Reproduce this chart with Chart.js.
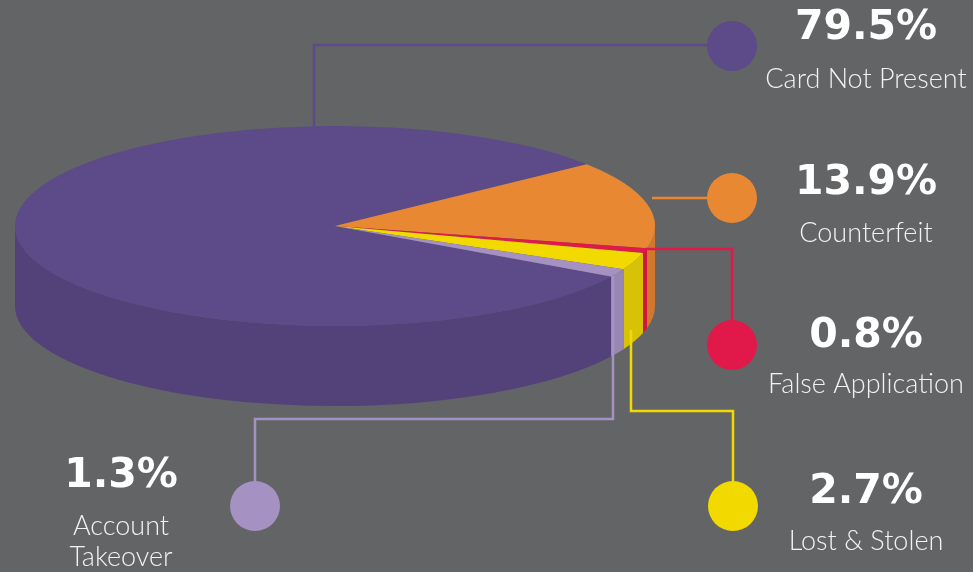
<!DOCTYPE html>
<html>
<head>
<meta charset="utf-8">
<script src="https://cdn.jsdelivr.net/npm/chart.js@4.4.1/dist/chart.umd.min.js"></script>
<style>
  html, body { margin: 0; padding: 0; background: #636466; }
  #wrap { width: 973px; height: 572px; position: relative; }
</style>
</head>
<body>
<div id="wrap"><canvas id="fraudPie" width="973" height="572"></canvas></div>
<script>
// fraud types and their share of losses (%)
const categories = ['Card Not Present', 'Counterfeit', 'False Application', 'Lost & Stolen', 'Account Takeover'];
const shares = [79.5, 13.9, 0.8, 2.7, 1.3];
const topColors = ['#5c4a89', '#e98833', '#e0194a', '#f2d900', '#a592c3'];
const sideColors = ['#53417a', '#cf782e', '#d0173f', '#d8c208', '#9687b4'];

// callout layout: leader path, dot, text column
const callouts = [
  { path: [[314, 126], [314, 45], [732, 45]], dot: [732, 46], tx: 866, pctY: 39, labelY: [88] },
  { path: [[652, 198], [732, 198]], dot: [732, 198], tx: 866, pctY: 194, labelY: [242] },
  { path: [[645, 249], [732, 249], [732, 345]], dot: [732, 345], tx: 866, pctY: 347, labelY: [393] },
  { path: [[631, 330], [631, 411], [733, 411], [733, 506]], dot: [733, 506], tx: 866, pctY: 503, labelY: [550] },
  { path: [[613, 276], [613, 419], [255, 419], [255, 506]], dot: [255, 506], tx: 121, pctY: 487, labelY: [535, 566] }
];

const stretch = 3.2;   // horizontal squash factor -> ellipse
const depth = 80;      // pie thickness in px

function sideSpans(a0, a1) {
  // part of [a0,a1] that lies on the front half (0..PI)
  const out = [];
  for (const k of [-2, -1, 0, 1]) {
    const s = Math.max(a0 + k * 2 * Math.PI, 0);
    const e = Math.min(a1 + k * 2 * Math.PI, Math.PI);
    if (e > s) out.push([s, e]);
  }
  return out;
}

const pie3d = {
  id: 'pie3d',
  beforeDatasetsDraw(chart) {
    const ctx = chart.ctx;
    const meta = chart.getDatasetMeta(0);
    meta.data.forEach((arc, i) => {
      const p = arc.getProps(['x', 'y', 'startAngle', 'endAngle', 'outerRadius'], true);
      const rx = p.outerRadius * stretch, ry = p.outerRadius;
      sideSpans(p.startAngle, p.endAngle).forEach(([s, e]) => {
        ctx.beginPath();
        ctx.ellipse(p.x, p.y, rx, ry, 0, s, e);
        ctx.ellipse(p.x, p.y + depth, rx, ry, 0, e, s, true);
        ctx.closePath();
        ctx.fillStyle = sideColors[i];
        ctx.fill();
      });
    });
    // top face: squash the circle into an ellipse
    const c = meta.data[0];
    ctx.save();
    ctx.translate(c.x, c.y);
    ctx.scale(stretch, 1);
    ctx.translate(-c.x, -c.y);
  },
  afterDatasetsDraw(chart) {
    const ctx = chart.ctx;
    ctx.restore();
    callouts.forEach((co, i) => {
      ctx.save();
      ctx.strokeStyle = topColors[i];
      ctx.lineWidth = 2.5;
      ctx.beginPath();
      co.path.forEach(([x, y], j) => j ? ctx.lineTo(x, y) : ctx.moveTo(x, y));
      ctx.stroke();
      ctx.fillStyle = topColors[i];
      ctx.beginPath();
      ctx.arc(co.dot[0], co.dot[1], 25, 0, Math.PI * 2);
      ctx.fill();

      ctx.textAlign = 'center';
      ctx.textBaseline = 'alphabetic';
      ctx.fillStyle = '#ffffff';
      ctx.font = 'bold 41px "DejaVu Sans"';
      ctx.fillText(shares[i] + '%', co.tx, co.pctY);
      ctx.fillStyle = '#f2f2f2';
      ctx.font = '300 27px Lato';
      const lines = co.labelY.length > 1 ? categories[i].split(' ') : [categories[i]];
      lines.forEach((t, j) => ctx.fillText(t, co.tx, co.labelY[j]));
      ctx.restore();
    });
  }
};

new Chart(document.getElementById('fraudPie'), {
  type: 'pie',
  data: {
    labels: categories,
    datasets: [{
      data: shares,
      backgroundColor: topColors,
      borderWidth: 0,
      clip: false
    }]
  },
  options: {
    responsive: false,
    animation: false,
    events: [],
    rotation: 120.4,
    layout: { padding: { left: 235, right: 538, top: 126, bottom: 246 } },
    plugins: {
      legend: { display: false },
      tooltip: { enabled: false }
    }
  },
  plugins: [pie3d]
});
</script>
</body>
</html>
